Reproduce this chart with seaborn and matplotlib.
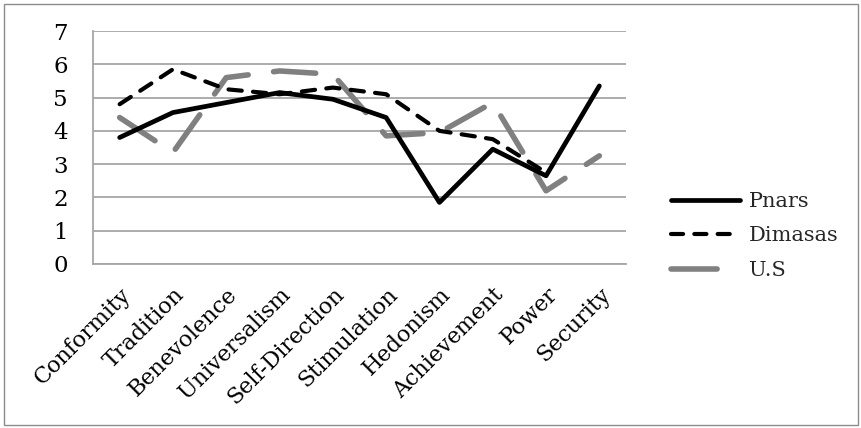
import matplotlib
matplotlib.use("Agg")
import matplotlib.pyplot as plt
import matplotlib.transforms as mtransforms
import seaborn as sns
import numpy as np
import pandas as pd

categories = ["Conformity", "Tradition", "Benevolence", "Universalism", "Self-Direction",
              "Stimulation", "Hedonism", "Achievement", "Power", "Security"]
pnars = [3.8, 4.55, 4.85, 5.15, 4.95, 4.4, 1.85, 3.45, 2.65, 5.35]
dimasas = [4.8, 5.85, 5.25, 5.1, 5.3, 5.1, 4.0, 3.75, 2.75, np.nan]
us = [4.4, 3.35, 5.6, 5.8, 5.7, 3.85, 3.95, 4.85, 2.2, 3.25]
y_ticks = [0, 1, 2, 3, 4, 5, 6, 7]

sns.set_theme(style="white")
plt.rcParams["font.family"] = ["DejaVu Serif"]

W, H = 862, 428
fig = plt.figure(figsize=(W / 100, H / 100), dpi=100)
ax = fig.add_axes([93 / W, 1 - 264 / H, (626 - 93) / W, (264 - 31) / H])

fig.patches.append(plt.Rectangle((4 / W, 3 / H), 854 / W, 421 / H, transform=fig.transFigure,
                                 fill=False, edgecolor="#8c8c8c", linewidth=1.0))

df = pd.DataFrame({"cat": categories, "Pnars": pnars, "Dimasas": dimasas, "U.S": us})

sns.lineplot(data=df, x="cat", y="U.S", ax=ax, color="#808080", linewidth=4.0,
             label="U.S", sort=False, zorder=3)
sns.lineplot(data=df, x="cat", y="Dimasas", ax=ax, color="black", linewidth=3.0,
             label="Dimasas", sort=False, zorder=4)
sns.lineplot(data=df, x="cat", y="Pnars", ax=ax, color="black", linewidth=3.4,
             label="Pnars", sort=False, zorder=5)

lines = ax.get_lines()
lines[0].set_dashes([7.6, 4.6])
lines[0].set_dash_capstyle("round")
lines[1].set_dashes([3.2, 2.7])
lines[1].set_dash_capstyle("round")
lines[2].set_solid_capstyle("round")
for ln in lines:
    ln.set_solid_joinstyle("round")
    ln.set_dash_joinstyle("round")

ax.set_xlim(-0.5, len(categories) - 0.5)
ax.set_ylim(0, 7)
ax.set_yticks(y_ticks)
ax.set_yticklabels([str(t) for t in y_ticks], fontsize=16.5)
ax.yaxis.grid(True, color="#a6a6a6", linewidth=1.3)
ax.set_axisbelow(True)
ax.set_xlabel("")
ax.set_ylabel("")

ax.set_xticks(range(len(categories)))
ax.set_xticklabels(categories, rotation=45, ha="right", va="top", rotation_mode="anchor",
                   fontsize=16)
offset = mtransforms.ScaledTranslation(5 / 72, 0, fig.dpi_scale_trans)
for lab in ax.get_xticklabels():
    lab.set_transform(lab.get_transform() + offset)
ax.set_xticks(np.arange(-0.5, len(categories)), minor=True)
ax.tick_params(axis="x", which="major", length=0, pad=14)
ax.tick_params(axis="x", which="minor", length=5, width=1.3, color="#a6a6a6", direction="out")
ax.tick_params(axis="y", which="major", length=6, width=1.3, color="#a6a6a6", direction="out", pad=12)
ax.tick_params(axis="both", labelcolor="black")

for s in ["top", "right"]:
    ax.spines[s].set_visible(False)
for s in ["left", "bottom"]:
    ax.spines[s].set_color("#a6a6a6")
    ax.spines[s].set_linewidth(1.3)

handles, labels = ax.get_legend_handles_labels()
order = [labels.index("Pnars"), labels.index("Dimasas"), labels.index("U.S")]
leg = ax.legend([handles[i] for i in order], [labels[i] for i in order],
                loc="center left", bbox_to_anchor=(671 / W, 1 - 236 / H),
                bbox_transform=fig.transFigure, frameon=False, fontsize=15,
                handlelength=3.3, handletextpad=0.45, labelspacing=0.75,
                borderaxespad=0, borderpad=0)
leg_lines = leg.get_lines()
leg_lines[2].set_dashes([8.3, 12])
leg_lines[1].set_dashes([2.9, 2.7])

fig.savefig("out.png", dpi=100)
